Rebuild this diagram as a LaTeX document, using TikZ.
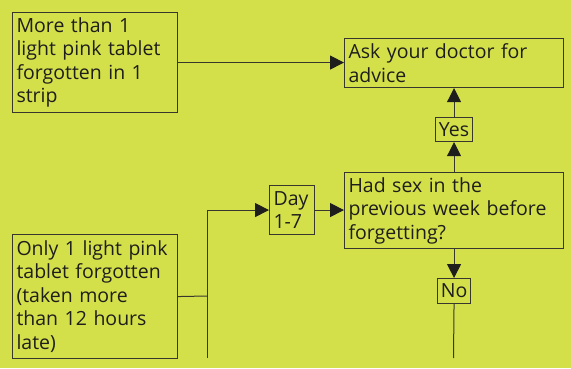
\documentclass[tikz,border=0pt]{standalone}
\usepackage{fontspec}
\setmainfont{Open Sans}
\usetikzlibrary{arrows.meta}
\definecolor{bg}{RGB}{212,224,74}
\definecolor{ink}{RGB}{30,30,28}
\definecolor{frame}{RGB}{55,55,45}
\begin{document}
\begin{tikzpicture}[x=1pt,y=-1pt,
  box/.style={draw=frame, line width=1.1pt, anchor=north west, inner xsep=4pt, inner ysep=0pt,
    align=left, font=\fontsize{19.5}{23.5}\selectfont, text=ink},
  tag/.style={box, align=center, inner xsep=0pt},
  arr/.style={draw=frame, line width=1pt, -{Triangle[length=14pt,width=14pt,color=ink]}},
  ln/.style={draw=frame, line width=1pt}]
\fill[bg] (0,0) rectangle (571,368);
\useasboundingbox (0,0) rectangle (571,368);
\node[box, text width=157pt, minimum height=100pt] (more) at (12,12) {More than 1\\light pink tablet\\forgotten in 1\\strip};
\node[box, text width=211pt, minimum height=49pt] (ask) at (344,38) {Ask your doctor for\\advice};
\node[box, text width=211pt, minimum height=76pt] (had) at (344,172) {Had sex in the\\previous week before\\forgetting?};
\node[box, text width=37pt, minimum height=49pt] (day) at (269,185) {Day\\1-7};
\node[tag, text width=37pt, minimum height=24pt] (yes) at (435,117) {Yes};
\node[tag, text width=33pt, minimum height=25pt] (no) at (437,278) {No};
\node[box, text width=157pt, minimum height=124pt] (only) at (12,234) {Only 1 light pink\\tablet forgotten\\(taken more\\than 12 hours\\late)};
\coordinate (j) at (207,296);
\coordinate (b1) at (207,358);
\coordinate (b2) at (453.5,358);
\draw[arr] (more.east) -- (ask.west |- more.east);
\draw[arr] (had.north) -- (yes.south);
\draw[arr] (yes.north) -- (ask.south);
\draw[arr] (day.east) -- (had.west |- day.east);
\draw[ln] (only.east) -- (j);
\draw[arr] (b1) |- (day.west);
\draw[arr] (had.south) -- (no.north);
\draw[ln] (no.south) -- (b2);
\end{tikzpicture}
\end{document}
